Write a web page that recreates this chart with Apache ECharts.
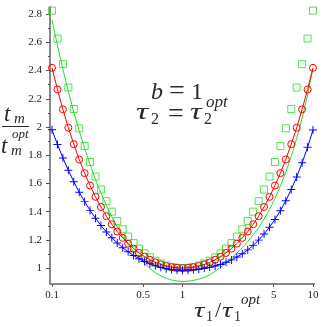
<!DOCTYPE html>
<html>
<head>
<meta charset="utf-8">
<script src="https://cdn.jsdelivr.net/npm/echarts@6/dist/echarts.min.js"></script>
<style>
body { margin: 0; background: #fff; }
#chart { width: 327px; height: 327px; }
</style>
</head>
<body>
<div id="chart"></div>
<script>
// tau1 / tau1^opt, evenly spaced in log from 0.1 to 10
var tau = [0.1, 0.1101, 0.1212, 0.1334, 0.1468, 0.1616, 0.1778, 0.1957, 0.2154, 0.2371, 0.2610, 0.2873,
    0.3162, 0.3481, 0.3831, 0.4217, 0.4642, 0.5109, 0.5623, 0.6190, 0.6813, 0.7499, 0.8254, 0.9085, 1,
    1.1007, 1.2115, 1.3335, 1.4678, 1.6156, 1.7783, 1.9573, 2.1544, 2.3714, 2.6102, 2.8730, 3.1623,
    3.4807, 3.8312, 4.2170, 4.6416, 5.1090, 5.6234, 6.1897, 6.8129, 7.4989, 8.2540, 9.0852, 10];

// green line (no markers)
var greenLine = [2.760, 2.578, 2.409, 2.252, 2.106, 1.972, 1.848, 1.733, 1.628, 1.532, 1.444, 1.364,
    1.292, 1.227, 1.168, 1.116, 1.071, 1.031, 0.997, 0.968, 0.945, 0.928, 0.915, 0.908, 0.905,
    0.907, 0.912, 0.922, 0.934, 0.951, 0.978, 1.005, 1.036, 1.070, 1.106, 1.145, 1.188, 1.235,
    1.284, 1.346, 1.416, 1.494, 1.582, 1.680, 1.792, 1.919, 2.063, 2.227, 2.415];

// green squares
var greenSquares = [2.825, 2.627, 2.446, 2.280, 2.128, 1.991, 1.865, 1.752, 1.649, 1.557, 1.474, 1.400,
    1.333, 1.275, 1.223, 1.177, 1.138, 1.104, 1.076, 1.052, 1.033, 1.018, 1.008, 1.002, 1.000,
    1.002, 1.008, 1.018, 1.033, 1.052, 1.076, 1.104, 1.138, 1.177, 1.223, 1.275, 1.333, 1.400,
    1.474, 1.557, 1.649, 1.752, 1.865, 1.991, 2.128, 2.280, 2.446, 2.627, 2.825];

// red line with circles
var redVals = [2.420, 2.266, 2.125, 1.995, 1.878, 1.770, 1.673, 1.585, 1.505, 1.433, 1.368, 1.311,
    1.259, 1.214, 1.173, 1.138, 1.107, 1.081, 1.059, 1.040, 1.026, 1.014, 1.006, 1.002, 1.000,
    1.002, 1.006, 1.014, 1.026, 1.040, 1.059, 1.081, 1.107, 1.138, 1.173, 1.214, 1.259, 1.311,
    1.368, 1.433, 1.505, 1.585, 1.673, 1.770, 1.878, 1.995, 2.125, 2.266, 2.420];

// blue line with pluses
var blueVals = [1.980, 1.876, 1.781, 1.693, 1.612, 1.538, 1.471, 1.409, 1.353, 1.302, 1.256, 1.215,
    1.178, 1.144, 1.115, 1.089, 1.066, 1.046, 1.030, 1.016, 1.005, 0.996, 0.990, 0.986, 0.985,
    0.986, 0.988, 0.992, 0.998, 1.005, 1.015, 1.026, 1.041, 1.058, 1.078, 1.102, 1.129, 1.161,
    1.198, 1.241, 1.290, 1.345, 1.407, 1.478, 1.557, 1.646, 1.746, 1.856, 1.979];

var xTicks = [0.1, 0.5, 1, 5, 10];
var yTicks = [1, 1.2, 1.4, 1.6, 1.8, 2, 2.2, 2.4, 2.6, 2.8];
var yMinorTicks = [1.1, 1.3, 1.5, 1.7, 1.9, 2.1, 2.3, 2.5, 2.7];

function pairs(vals) {
    var out = [];
    for (var i = 0; i < tau.length; i++) {
        out.push([tau[i], vals[i]]);
    }
    return out;
}

var serif = '"Liberation Serif", "DejaVu Serif", serif';
var ink = '#2a2a2a';

// math text pieces (sx widens glyphs a bit, like the TeX font)
function tx(text, x, y, size, italic, sx) {
    return {
        type: 'text',
        x: x,
        y: y,
        scaleX: sx || 1,
        style: {
            text: text,
            font: (italic ? 'italic ' : '') + size + 'px ' + serif,
            fill: ink,
            align: 'left',
            verticalAlign: 'bottom'
        }
    };
}

var chart = echarts.init(document.getElementById('chart'));
var option = {
    backgroundColor: '#fff',
    animation: false,
    grid: {
        left: 50,
        right: 13,
        top: 7,
        bottom: 43
    },
    xAxis: {
        type: 'log',
        min: 0.0965,
        max: 10.18,
        axisLine: { lineStyle: { color: '#8a8a8a', width: 2 } },
        axisTick: { customValues: xTicks, length: 3, lineStyle: { color: '#555' } },
        axisLabel: {
            customValues: xTicks,
            margin: 6,
            fontFamily: serif,
            fontSize: 11,
            color: '#222'
        },
        splitLine: { show: false },
        minorTick: { show: false }
    },
    yAxis: [{
        type: 'value',
        position: 'left',
        min: 0.887,
        max: 2.851,
        axisLine: { show: true, lineStyle: { color: '#8a8a8a', width: 2 } },
        axisTick: { show: true, customValues: yTicks, length: 4, lineStyle: { color: '#555' } },
        axisLabel: {
            customValues: yTicks,
            margin: 8,
            fontFamily: serif,
            fontSize: 11,
            color: '#222'
        },
        splitLine: { show: false }
    }, {
        type: 'value',
        position: 'left',
        min: 0.887,
        max: 2.851,
        axisLine: { show: false },
        axisTick: { show: true, customValues: yMinorTicks, length: 2, lineStyle: { color: '#555' } },
        axisLabel: { show: false },
        splitLine: { show: false }
    }],
    graphic: [
        // y axis title: t_m / t_m^opt
        tx('t', 4, 126, 23, true),
        tx('m', 14, 127, 15, true),
        {
            type: 'line',
            shape: { x1: 2, y1: 126.5, x2: 29, y2: 126.5 },
            style: { stroke: ink, lineWidth: 1 }
        },
        tx('t', 1, 158, 23, true),
        tx('m', 11, 159, 15, true),
        tx('opt', 12, 141, 13, true),
        // x axis title: tau1 / tau1^opt
        tx('\u03c4', 194, 322, 22, true, 1.3),
        tx('1', 206, 324, 14, false),
        tx('/', 215, 322, 22, false),
        tx('\u03c4', 222, 322, 22, true, 1.3),
        tx('1', 234, 324, 14, false),
        tx('opt', 241, 308, 15, true),
        // b = 1
        tx('b', 151, 105, 24, true),
        tx('=', 169, 106, 28, false),
        tx('1', 191, 105, 24, false),
        // tau2 = tau2^opt
        tx('\u03c4', 136, 125, 24, true, 1.4),
        tx('2', 151, 128, 16, false),
        tx('=', 168, 129, 28, false),
        tx('\u03c4', 190, 125, 24, true, 1.35),
        tx('2', 204, 128, 16, false),
        tx('opt', 206, 111, 17, true)
    ],
    series: [{
        name: 'green squares',
        type: 'scatter',
        symbol: 'rect',
        symbolSize: 7,
        itemStyle: { color: 'rgba(0,0,0,0)', borderColor: '#22e022', borderWidth: 1 },
        data: pairs(greenSquares),
        z: 2
    }, {
        name: 'green line',
        type: 'line',
        showSymbol: false,
        lineStyle: { color: '#22e022', width: 1 },
        data: pairs(greenLine),
        z: 3
    }, {
        name: 'red',
        type: 'line',
        symbol: 'circle',
        symbolSize: 7,
        showAllSymbol: true,
        lineStyle: { color: '#ff0000', width: 1 },
        itemStyle: { color: 'rgba(0,0,0,0)', borderColor: '#ff0000', borderWidth: 1 },
        data: pairs(redVals),
        z: 4
    }, {
        name: 'blue',
        type: 'line',
        symbol: 'path://M0,4.4h10v1.2h-10zM4.4,0h1.2v10h-1.2z',
        symbolSize: 8,
        showAllSymbol: true,
        lineStyle: { color: '#0000ff', width: 1 },
        itemStyle: { color: '#0000ff' },
        data: pairs(blueVals),
        z: 5
    }]
};
chart.setOption(option);
</script>
</body>
</html>
